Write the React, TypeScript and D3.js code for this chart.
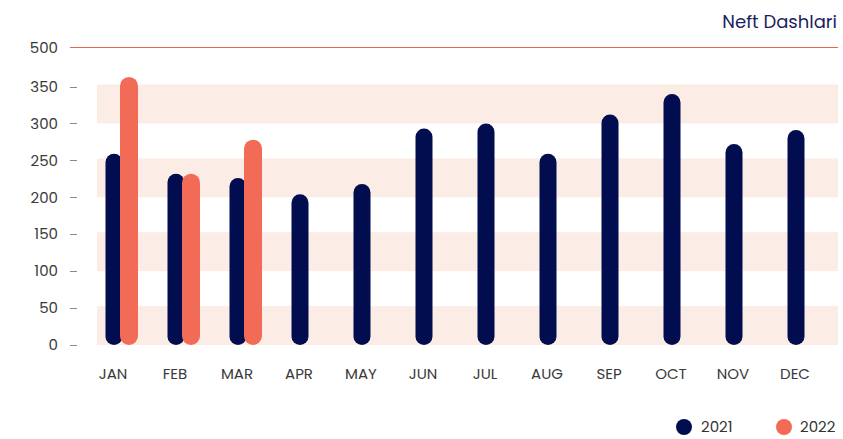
import React from "react";
import * as d3 from "d3";

const months = ["JAN", "FEB", "MAR", "APR", "MAY", "JUN", "JUL", "AUG", "SEP", "OCT", "NOV", "DEC"];
const values2021 = [259, 232, 226, 204, 218, 293, 300, 259, 312, 340, 272, 291];
const values2022: (number | null)[] = [363, 232, 278, null, null, null, null, null, null, null, null, null];
const yTicks = [0, 50, 100, 150, 200, 250, 300, 350];
const topLabel = "500";
const bands: [number, number][] = [[0, 50], [100, 150], [200, 250], [300, 350]];
const seriesNames = ["2021", "2022"];
const title = "Neft Dashlari";

const W = 843;
const H = 439;
const NAVY = "#020d4f";
const CORAL = "#f26b56";
const BAND = "#fcece6";
const FONT = "Poppins, 'Open Sans', sans-serif";

export default function App() {
  const plotLeft = 97;
  const plotRight = 838;
  const top = 47.5;
  const y = d3.scaleLinear().domain([0, 350]).range([345, 86.5]);
  const x = d3.scalePoint<string>().domain(months).range([114, 796]);
  const barW = 17;
  const offset = 15;

  return (
    <svg width={W} height={H} style={{ position: "absolute", left: 0, top: 0, background: "#fff" }}>
      <text x={837} y={28} textAnchor="end" fontFamily={FONT} fontSize={18} fill="#1b1f5f">
        {title}
      </text>
      {bands.map(([lo, hi], i) => (
        <rect key={i} x={plotLeft} width={plotRight - plotLeft} y={y(hi) - 2} height={y(lo) - y(hi) + 2} fill={BAND} />
      ))}
      <line x1={70} x2={plotRight} y1={top} y2={top} stroke="#e4664f" strokeWidth={1} />
      <text x={58} y={top} dy="0.35em" textAnchor="end" fontFamily={FONT} fontSize={15} fill="#3a3a3a">
        {topLabel}
      </text>
      {yTicks.map((t) => (
        <g key={t}>
          <line x1={70} x2={77} y1={Math.round(y(t)) + 0.5} y2={Math.round(y(t)) + 0.5} stroke="#888" strokeWidth={1} />
          <text x={58} y={y(t)} dy="0.35em" textAnchor="end" fontFamily={FONT} fontSize={15} fill="#3a3a3a">
            {t}
          </text>
        </g>
      ))}
      {months.map((m, i) => {
        const c = x(m)!;
        const v1 = values2021[i];
        const v2 = values2022[i];
        return (
          <g key={m}>
            <rect x={c - barW / 2} width={barW} y={y(v1)} height={y(0) - y(v1)} rx={barW / 2} fill={NAVY} />
            {v2 != null && (
              <rect x={c + offset - barW / 2 - 0.5} width={barW + 1} y={y(v2)} height={y(0) - y(v2)} rx={(barW + 1) / 2} fill={CORAL} />
            )}
            <text x={c - 1} y={379} textAnchor="middle" fontFamily={FONT} fontSize={15} fill="#3a3a3a">
              {m}
            </text>
          </g>
        );
      })}
      <circle cx={684} cy={427} r={8} fill={NAVY} />
      <text x={701} y={427} dy="0.35em" fontFamily={FONT} fontSize={15} fill="#333">
        {seriesNames[0]}
      </text>
      <circle cx={784} cy={427} r={8} fill={CORAL} />
      <text x={800} y={427} dy="0.35em" fontFamily={FONT} fontSize={15} fill="#333">
        {seriesNames[1]}
      </text>
    </svg>
  );
}
